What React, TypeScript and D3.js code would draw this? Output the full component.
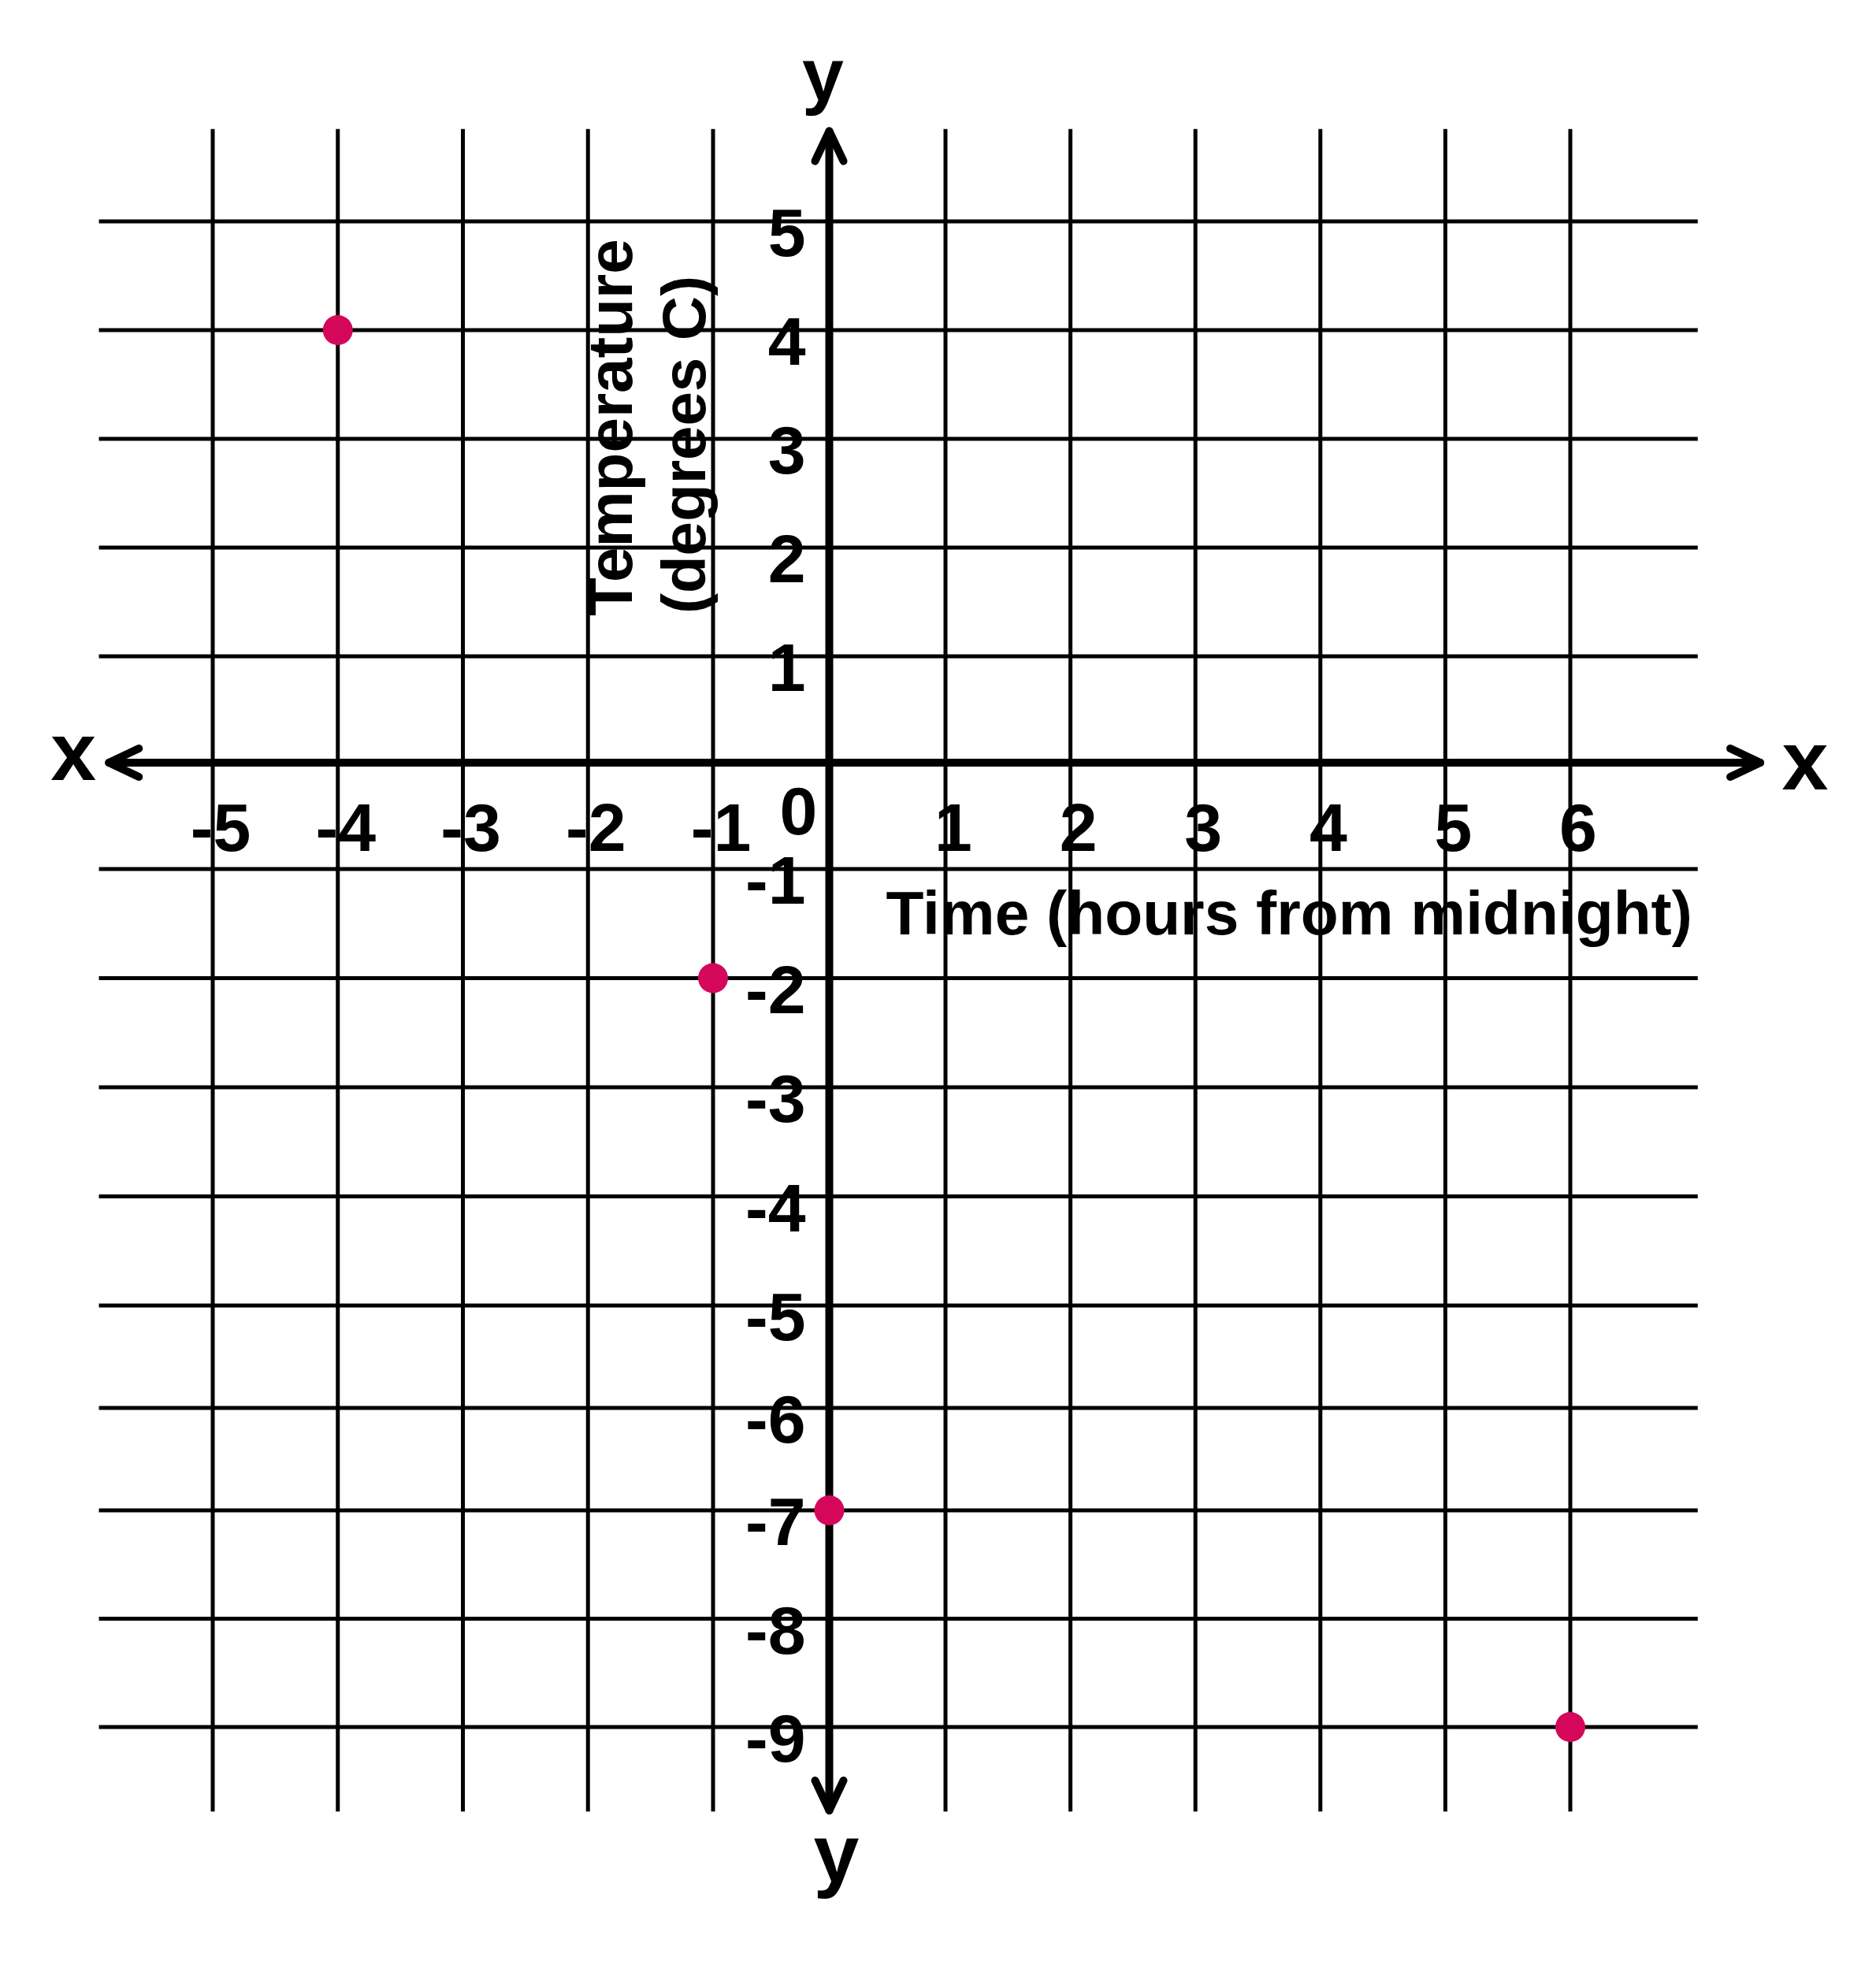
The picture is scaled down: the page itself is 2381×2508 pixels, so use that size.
import React, { useEffect, useRef } from 'react';
import * as d3 from 'd3';

// hours from midnight / temperature readings
const hours = [-4, -1, 0, 6];
const temps = [4, -2, -7, -9];

const xTicks = [-5, -4, -3, -2, -1, 1, 2, 3, 4, 5, 6];
const yTicks = [5, 4, 3, 2, 1, -1, -2, -3, -4, -5, -6, -7, -8, -9];

const xTitle = 'Time (hours from midnight)';
const yTitle = ['Temperature', '(degrees C)'];

export default function App() {
    const ref = useRef<SVGSVGElement | null>(null);

    useEffect(() => {
        const width = 2381;
        const height = 2508;
        const svg = d3.select(ref.current);
        svg.selectAll('*').remove();
        svg.attr('width', width).attr('height', height);

        // the hand drawn grid is a bit uneven, so use a piecewise linear scale
        const x = d3.scaleLinear().domain([-5, -1, 1, 6]).range([270, 905, 1200, 1993]);
        const y = d3.scaleLinear().domain([5, 1, -1, -5, -7, -9]).range([281, 833, 1103, 1657, 1917, 2192]);

        const font = "'Liberation Sans', Arial, sans-serif";

        // grid
        const grid = svg.append('g').attr('stroke', '#000').attr('stroke-width', 5);
        grid.selectAll('line.v')
            .data(xTicks)
            .enter().append('line')
            .attr('class', 'v')
            .attr('x1', d => x(d)).attr('x2', d => x(d))
            .attr('y1', y(5.85)).attr('y2', y(-9.78));
        grid.selectAll('line.h')
            .data(yTicks)
            .enter().append('line')
            .attr('class', 'h')
            .attr('x1', x(-5.91)).attr('x2', x(7.02))
            .attr('y1', d => y(d)).attr('y2', d => y(d));

        // axes with open arrow heads
        const ax = svg.append('g')
            .attr('stroke', '#000')
            .attr('stroke-width', 10)
            .attr('stroke-linecap', 'round')
            .attr('stroke-linejoin', 'round')
            .attr('fill', 'none');
        const x0 = x(0);
        const y0 = y(0);
        const xl = x(-5.83), xr = x(7.52);
        const yt = y(5.83), yb = y(-9.77);
        ax.append('line').attr('x1', xl).attr('x2', xr).attr('y1', y0).attr('y2', y0);
        ax.append('line').attr('x1', x0).attr('x2', x0).attr('y1', yt).attr('y2', yb);
        const a = 38, b = 18;
        ax.append('path').attr('d', `M${xl + a},${y0 - b}L${xl},${y0}L${xl + a},${y0 + b}`);
        ax.append('path').attr('d', `M${xr - a},${y0 - b}L${xr},${y0}L${xr - a},${y0 + b}`);
        ax.append('path').attr('d', `M${x0 - b},${yt + a}L${x0},${yt}L${x0 + b},${yt + a}`);
        ax.append('path').attr('d', `M${x0 - b},${yb - a}L${x0},${yb}L${x0 + b},${yb - a}`);

        const txt = svg.append('g')
            .attr('font-family', font)
            .attr('font-weight', 'bold')
            .attr('fill', '#000');

        // tick labels
        txt.selectAll('text.xt')
            .data(xTicks)
            .enter().append('text')
            .attr('class', 'xt')
            .attr('x', d => x(d) + 10)
            .attr('y', y0 + 112)
            .attr('text-anchor', 'middle')
            .attr('font-size', 86)
            .text(d => String(d));
        txt.append('text')
            .attr('x', x0 - 39)
            .attr('y', y0 + 91)
            .attr('text-anchor', 'middle')
            .attr('font-size', 86)
            .text('0');
        txt.selectAll('text.yt')
            .data(yTicks)
            .enter().append('text')
            .attr('class', 'yt')
            .attr('x', x0 - 30)
            .attr('y', d => y(d) + 44)
            .attr('text-anchor', 'end')
            .attr('font-size', 86)
            .text(d => String(d));

        // axis letters
        txt.append('text').attr('x', x0 - 8).attr('y', yt - 39)
            .attr('text-anchor', 'middle').attr('font-size', 95).text('y');
        txt.append('text').attr('x', x0 + 9).attr('y', yb + 90)
            .attr('text-anchor', 'middle').attr('font-size', 104).text('y');
        txt.append('text').attr('x', xl - 45).attr('y', y0 + 22)
            .attr('text-anchor', 'middle').attr('font-size', 104).text('x');
        txt.append('text').attr('x', xr + 57).attr('y', y0 + 34)
            .attr('text-anchor', 'middle').attr('font-size', 106).text('x');

        // titles
        txt.append('text')
            .attr('x', x0 + 72)
            .attr('y', y0 + 218)
            .attr('font-size', 78.5)
            .text(xTitle);
        txt.append('text')
            .attr('transform', `translate(802,782) rotate(-90)`)
            .attr('font-size', 80)
            .text(yTitle[0]);
        txt.append('text')
            .attr('transform', `translate(895,779) rotate(-90)`)
            .attr('font-size', 78)
            .text(yTitle[1]);

        // points
        svg.append('g')
            .selectAll('circle')
            .data(hours.map((h, i) => ({ h, t: temps[i] })))
            .enter().append('circle')
            .attr('cx', d => x(d.h))
            .attr('cy', d => y(d.t))
            .attr('r', 19)
            .attr('fill', '#d5075b');
    }, []);

    return (
        <div style={{ position: 'absolute', left: 0, top: 0, background: '#fff' }}>
            <svg ref={ref} style={{ display: 'block' }} />
        </div>
    );
}
